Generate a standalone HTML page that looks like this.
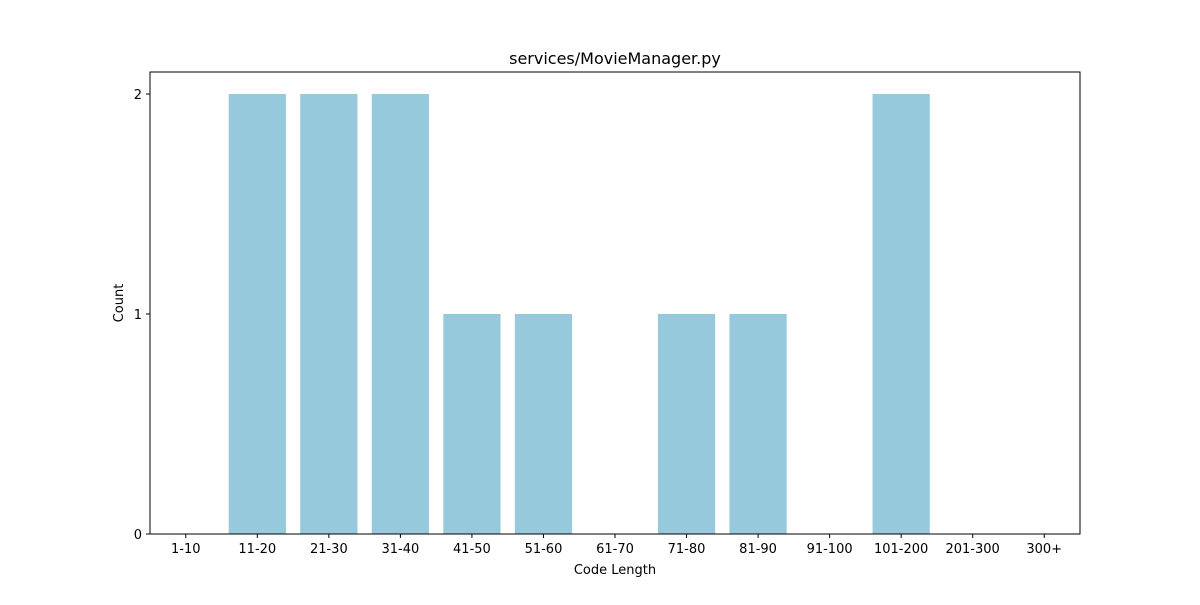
<!DOCTYPE html>
<html><head><meta charset="utf-8"><style>
body{margin:0;background:#fff;}
svg text{font-family:"DejaVu Sans","Liberation Sans",sans-serif;fill:#000;}
</style></head><body>
<svg id="chart" width="1200" height="600">
<rect width="1200" height="600" fill="#fff"/>
<text x="615" y="64" text-anchor="middle" font-size="16">services/MovieManager.py</text>
<g id="bars"></g>
<rect x="150" y="72" width="930" height="462" fill="none" stroke="#000" stroke-width="1"/>
<g id="xticks"></g><g id="yticks"></g>
<text x="615" y="574" text-anchor="middle" font-size="13">Code Length</text>
<text x="123" y="303" text-anchor="middle" font-size="13" transform="rotate(-90 123 303)">Count</text>
</svg>
<script>
const categories=["1-10","11-20","21-30","31-40","41-50","51-60","61-70","71-80","81-90","91-100","101-200","201-300","300+"];
const counts=[0,2,2,2,1,1,0,1,1,0,2,0,0];
const yTicks=[0,1,2];
const L=150,R=1080,T=72,B=534,yMax=2.1;
const step=(R-L)/categories.length;
const xs=i=>L+(i+0.5)*step;
const ys=v=>B-(v/yMax)*(B-T);
const NS="http://www.w3.org/2000/svg";
const bars=document.getElementById('bars'),xt=document.getElementById('xticks'),yt=document.getElementById('yticks');
function mk(t,a){const e=document.createElementNS(NS,t);for(const k in a)e.setAttribute(k,a[k]);return e;}
categories.forEach((c,i)=>{
  const w=step*0.8,x=xs(i)-w/2;
  const r=mk('rect',{x:x,y:ys(counts[i]),width:w,height:B-ys(counts[i]),fill:'#96c9dc'});
  
  
  bars.appendChild(r);
  const tk=mk('line',{x1:xs(i),x2:xs(i),y1:B,y2:B+4,stroke:'#000'});
  
  
  xt.appendChild(tk);
  const tx=mk('text',{x:xs(i),y:B+19,'text-anchor':'middle','font-size':13});
  tx.textContent=c;
  
  
  xt.appendChild(tx);
});
yTicks.forEach(v=>{
  const tk=mk('line',{x1:L-4,x2:L,y1:ys(v),y2:ys(v),stroke:'#000'});
  
  
  yt.appendChild(tk);
  const tx=mk('text',{x:L-8,y:ys(v)+5,'text-anchor':'end','font-size':13});
  tx.textContent=v;
  
  
  yt.appendChild(tx);
});
</script>
</body></html>
